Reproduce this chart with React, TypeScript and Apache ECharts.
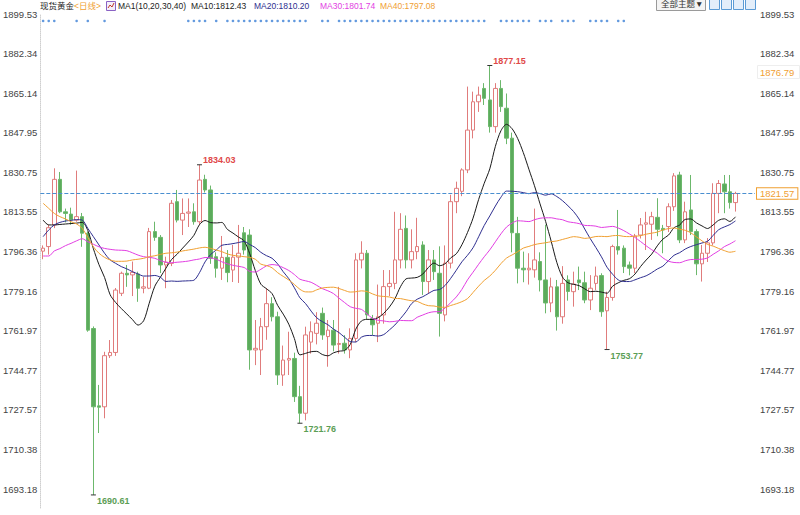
import { useEffect, useRef } from "react";
import * as echarts from "echarts";

// ---- data (daily spot gold) ----
const opens = [
  1796.5, 1798.5, 1807.9, 1827.7, 1813.6, 1812.6, 1810.0, 1811.5, 1804.3, 1762.9,
  1729.3, 1728.9, 1751.1, 1752.5, 1778.2, 1786.9, 1786.2, 1786.6, 1780.4, 1780.4,
  1805.0, 1802.5, 1790.5, 1791.2, 1818.0, 1810.0, 1813.0, 1813.6, 1809.3, 1827.7,
  1823.1, 1794.1, 1789.1, 1793.8, 1788.3, 1793.9, 1804.5, 1803.5, 1753.6, 1753.6,
  1763.7, 1773.7, 1768.0, 1742.7, 1749.2, 1749.9, 1733.3, 1726.1, 1757.0, 1760.8,
  1769.5, 1759.4, 1762.2, 1756.0, 1756.5, 1753.6, 1758.6, 1792.7, 1795.6, 1767.2,
  1765.2, 1768.8, 1781.1, 1782.5, 1792.7, 1806.4, 1792.7, 1796.3, 1799.2, 1783.3,
  1792.7, 1786.9, 1768.8, 1791.3, 1818.0, 1822.5, 1831.8, 1849.1, 1861.4, 1867.2,
  1862.2, 1850.6, 1867.2, 1858.6, 1845.6, 1804.2, 1789.1, 1788.4, 1788.4, 1792.0,
  1784.0, 1774.0, 1781.0, 1768.0, 1784.0, 1778.9, 1784.0, 1782.8, 1775.3, 1782.5,
  1785.9, 1770.6, 1776.4, 1798.5, 1797.8, 1790.5, 1789.1, 1803.5, 1808.2, 1808.2,
  1811.2, 1806.4, 1807.2, 1815.8, 1829.6, 1801.4, 1814.4, 1805.0, 1791.0, 1795.6,
  1800.1, 1821.6, 1825.7, 1822.3, 1817.6,
];
const closes = [
  1797.8, 1806.7, 1827.7, 1813.6, 1812.9, 1810.1, 1811.5, 1804.3, 1762.2, 1728.9,
  1728.7, 1751.1, 1752.5, 1779.6, 1786.9, 1786.2, 1787.3, 1780.4, 1781.0, 1805.0,
  1802.5, 1790.5, 1791.7, 1817.3, 1810.0, 1812.9, 1813.5, 1809.3, 1827.4, 1823.1,
  1793.4, 1789.1, 1793.8, 1787.2, 1793.9, 1795.6, 1797.0, 1753.6, 1754.3, 1763.7,
  1773.7, 1768.0, 1742.7, 1749.2, 1749.9, 1733.3, 1726.1, 1760.1, 1761.5, 1765.2,
  1760.1, 1762.2, 1755.7, 1756.4, 1753.6, 1758.6, 1792.7, 1795.6, 1768.8, 1764.5,
  1768.0, 1781.1, 1782.5, 1792.7, 1806.0, 1792.7, 1796.3, 1798.5, 1783.3, 1792.7,
  1787.6, 1769.5, 1791.3, 1818.0, 1823.8, 1831.8, 1849.1, 1861.4, 1864.3, 1862.9,
  1850.6, 1867.2, 1859.3, 1845.6, 1804.5, 1789.1, 1788.4, 1789.1, 1792.7, 1784.0,
  1774.0, 1781.0, 1768.0, 1782.5, 1779.0, 1782.2, 1782.8, 1775.3, 1780.4, 1785.7,
  1770.2, 1776.4, 1798.5, 1797.0, 1789.8, 1789.1, 1803.1, 1807.9, 1808.8, 1811.5,
  1806.0, 1805.7, 1815.8, 1829.2, 1801.4, 1813.6, 1805.0, 1791.0, 1795.6, 1800.1,
  1821.6, 1825.9, 1822.3, 1817.6, 1821.57,
];
const lows = [
  1793.0, 1795.0, 1806.5, 1813.0, 1809.0, 1808.0, 1809.3, 1798.4, 1761.5, 1690.61,
  1717.5, 1723.9, 1750.1, 1751.0, 1777.0, 1781.0, 1777.0, 1774.5, 1778.2, 1780.0,
  1801.0, 1787.0, 1780.4, 1790.0, 1809.0, 1803.5, 1807.0, 1808.0, 1808.0, 1822.0,
  1791.0, 1785.0, 1784.0, 1783.0, 1783.1, 1782.7, 1795.0, 1745.0, 1747.0, 1742.7,
  1758.0, 1766.0, 1738.4, 1738.0, 1742.7, 1731.0, 1721.76, 1723.0, 1752.0, 1756.0,
  1758.0, 1746.3, 1753.0, 1752.0, 1752.0, 1750.0, 1757.0, 1789.0, 1767.0, 1760.0,
  1757.0, 1765.0, 1777.0, 1780.0, 1789.0, 1789.0, 1789.0, 1793.0, 1777.5, 1778.0,
  1784.0, 1759.4, 1766.0, 1789.0, 1813.0, 1820.4, 1830.4, 1845.5, 1857.0, 1860.0,
  1848.0, 1848.0, 1857.0, 1843.0, 1796.0, 1782.5, 1783.0, 1782.0, 1785.0, 1779.0,
  1769.5, 1770.0, 1762.0, 1765.0, 1775.0, 1772.4, 1779.6, 1773.9, 1770.9, 1779.6,
  1768.0, 1753.77, 1775.0, 1795.0, 1787.0, 1786.0, 1787.0, 1802.0, 1797.0, 1801.4,
  1803.0, 1795.6, 1804.8, 1814.0, 1800.0, 1800.0, 1803.5, 1786.1, 1783.3, 1791.8,
  1799.0, 1813.0, 1813.0, 1815.0, 1813.7,
];
const highs = [
  1799.0, 1808.0, 1832.5, 1830.9, 1815.0, 1815.4, 1831.5, 1813.1, 1805.0, 1763.8,
  1738.4, 1752.8, 1757.9, 1780.5, 1787.6, 1790.5, 1792.0, 1787.6, 1785.4, 1806.6,
  1809.3, 1803.5, 1794.1, 1818.7, 1823.1, 1819.4, 1819.4, 1817.3, 1834.03, 1829.7,
  1825.0, 1796.0, 1803.1, 1797.0, 1799.2, 1807.9, 1807.0, 1806.0, 1766.6, 1767.5,
  1780.5, 1776.5, 1770.2, 1755.5, 1761.5, 1752.4, 1738.0, 1763.7, 1766.0, 1770.0,
  1772.0, 1766.6, 1766.6, 1781.0, 1760.0, 1763.0, 1795.6, 1800.8, 1797.0, 1768.8,
  1782.0, 1788.3, 1788.3, 1813.6, 1813.0, 1812.0, 1806.0, 1811.0, 1800.8, 1797.0,
  1797.0, 1798.6, 1799.0, 1821.0, 1826.7, 1832.5, 1868.0, 1865.8, 1868.0, 1869.5,
  1877.15, 1869.5, 1870.8, 1865.0, 1848.0, 1811.4, 1796.3, 1795.6, 1815.0, 1796.0,
  1808.0, 1785.0, 1784.0, 1790.0, 1786.0, 1787.6, 1789.8, 1787.6, 1786.1, 1789.8,
  1786.9, 1778.9, 1799.3, 1814.4, 1799.0, 1792.0, 1804.0, 1810.9, 1813.6, 1813.6,
  1819.5, 1807.9, 1817.3, 1830.4, 1831.0, 1818.0, 1829.6, 1806.0, 1799.2, 1802.2,
  1826.0, 1827.4, 1829.6, 1829.6, 1822.3,
];

// MA values before enough visible history exists
const ma10Lead = [1810.0, 1807.9, 1807.9, 1808.1, 1808.3, 1808.5, 1808.7, 1809.0, 1805.5];
const ma20Lead = [
  1802.8, 1805.7, 1807.9, 1809.0, 1809.6, 1809.9, 1810.2, 1810.0, 1806.4, 1802.8,
  1799.2, 1795.6, 1792.7, 1791.2, 1789.8, 1788.8, 1787.6, 1786.6, 1785.7,
];
const ma30Lead = [
  1794.4, 1794.4, 1796.6, 1797.6, 1798.9, 1799.9, 1801.0, 1801.9, 1800.6, 1799.5,
  1798.4, 1797.7, 1797.3, 1797.0, 1796.9, 1796.7, 1795.8, 1794.8, 1794.1, 1793.8,
  1793.4, 1792.4, 1791.7, 1791.5, 1791.7, 1791.9, 1792.2, 1792.7, 1793.1,
];
const ma40Lead = [
  1817.3, 1815.1, 1812.9, 1811.5, 1810.5, 1809.3, 1808.3, 1806.4, 1802.5, 1798.4,
  1795.6, 1793.8, 1792.7, 1792.1, 1792.1, 1792.2, 1792.7, 1793.0, 1793.4, 1794.1,
  1794.5, 1795.1, 1795.6, 1795.8, 1796.1, 1796.6, 1797.0, 1797.4, 1797.9, 1798.2,
  1797.7, 1797.0, 1796.3, 1795.3, 1794.7, 1794.4, 1794.1, 1793.8, 1793.0,
];

const yTicks = [
  1899.53, 1882.34, 1865.14, 1847.95, 1830.75, 1813.55, 1796.36, 1779.16, 1761.97,
  1744.77, 1727.57, 1710.38, 1693.18,
];
const maNames = ["MA10", "MA20", "MA30", "MA40"];
const maPeriods = [10, 20, 30, 40];
const maLegendValues = ["1812.43", "1810.20", "1801.74", "1797.08"];
const maColors = ["#1a1a1a", "#2e2e8f", "#e23ee2", "#f0a032"];
const eventDots = [
  0, 1, 2, 6, 8, 11, 26, 27, 28, 29, 31, 33, 34, 35, 36, 37, 38, 39, 40, 41, 42, 43,
  44, 45, 46, 47, 50, 51, 53, 54, 55, 56, 57, 58, 59, 60, 61, 62, 63, 64, 65, 66, 67,
  68, 69, 70, 71, 72, 73, 74, 75, 76, 77, 78, 79, 82, 83, 84, 85, 86, 87, 89, 90, 91,
  93, 94, 95, 98, 99, 100, 101, 103, 104,
];
const highMarks = [28, 80];
const lowMarks = [9, 46, 101];
const refPrice = "1876.79";

const SLOTS = 128;
const Y_MAX = 1899.53;
const Y_MIN = 1684.93;
const DOT_LEVEL = 1896.5;

function movingAverage(n: number, lead: number[]) {
  return closes.map((_, i) => {
    if (i < n - 1) return lead[i];
    let s = 0;
    for (let k = i - n + 1; k <= i; k++) s += closes[k];
    return +(s / n).toFixed(2);
  });
}

const FONT = "'Liberation Sans', Arial, 'Noto Sans CJK SC', sans-serif";

export default function App() {
  const ref = useRef<HTMLDivElement>(null);
  useEffect(() => {
    if (!ref.current) return;
    const chart = echarts.init(ref.current, undefined, { renderer: "svg" });
    const cats = Array.from({ length: SLOTS }, (_, i) => String(i));
    const kData = opens.map((o, i) => [o, closes[i], lows[i], highs[i]]);
    const leads = [ma10Lead, ma20Lead, ma30Lead, ma40Lead];
    const maSeries = maPeriods.map((p, k) => ({
      type: "line",
      name: maNames[k],
      data: movingAverage(p, leads[k]),
      symbol: "none",
      smooth: 0.3,
      lineStyle: { width: 1, color: maColors[k] },
      silent: true,
      z: 3,
    }));

    const markData = [
      ...highMarks.map((i) => ({
        coord: [i, highs[i]],
        value: highs[i],
        label: { color: "#e04848", offset: [0, -5] },
      })),
      ...lowMarks.map((i) => ({
        coord: [i, lows[i]],
        value: lows[i],
        label: { color: "#5b9e55", offset: [0, 6] },
      })),
    ];

    const legendItems: any[] = [];
    const legendX = [191, 254, 320, 380];
    maNames.forEach((n, k) => {
      legendItems.push({
        type: "text",
        x: legendX[k],
        y: 6,
        style: {
          text: `${n}:${maLegendValues[k]}`,
          fill: k === 0 ? "#222" : maColors[k],
          font: `8.5px ${FONT}`,
          verticalAlign: "middle",
        },
      });
    });

    const iconXs = [709, 721, 733, 745];

    chart.setOption({
      animation: false,
      backgroundColor: "#fff",
      grid: { left: 39, right: 45, top: 14, bottom: 7, containLabel: false },
      xAxis: {
        type: "category",
        data: cats,
        boundaryGap: true,
        axisLine: { show: false },
        axisTick: { show: false },
        axisLabel: { show: false },
        splitLine: { show: false },
      },
      yAxis: [
        {
          type: "value",
          min: Y_MIN,
          max: Y_MAX,
          position: "left",
          axisLine: { show: true, lineStyle: { color: "#cfcfcf", type: "dotted" } },
          axisTick: { show: false },
          splitLine: { show: false },
          axisLabel: {
            customValues: yTicks,
            formatter: (v: number) => v.toFixed(2),
            color: "#444",
            fontSize: 9.5,
            fontFamily: FONT,
            margin: 3,
          },
        },
        {
          type: "value",
          min: Y_MIN,
          max: Y_MAX,
          position: "right",
          axisLine: { show: false },
          axisTick: { show: false },
          splitLine: { show: false },
          axisLabel: {
            customValues: yTicks,
            formatter: (v: number) => v.toFixed(2),
            color: "#444",
            fontSize: 9.5,
            fontFamily: FONT,
            margin: 5,
          },
        },
      ],
      series: [
        {
          type: "candlestick",
          data: kData,
          barWidth: 4,
          itemStyle: {
            color: "#ffffff",
            borderColor: "#e07c7c",
            color0: "#5cab5c",
            borderColor0: "#6cb86c",
            borderWidth: 1,
          },
          z: 2,
          markLine: {
            silent: true,
            symbol: ["none", "none"],
            data: [{ yAxis: closes[closes.length - 1] }],
            lineStyle: { color: "#4a8fd0", type: "dashed", width: 1 },
            label: {
              position: "end",
              distance: 2,
              formatter: (p: any) => Number(p.value).toFixed(2),
              color: "#f0a032",
              borderColor: "#f0a032",
              borderWidth: 1,
              backgroundColor: "#fff",
              padding: [1, 3, 0, 3],
              fontSize: 9.5,
              fontFamily: FONT,
            },
          },
          markPoint: {
            symbol: "rect",
            symbolSize: [5, 1],
            itemStyle: { color: "#333" },
            label: {
              show: true,
              position: "right",
              distance: 1,
              fontSize: 9,
              fontWeight: "bold",
              fontFamily: FONT,
              formatter: (p: any) => Number(p.value).toFixed(2),
            },
            data: markData,
          },
        },
        ...maSeries,
        {
          type: "scatter",
          data: eventDots.map((i) => [i, DOT_LEVEL]),
          symbol: "circle",
          symbolSize: 2.6,
          itemStyle: { color: "#3b7fd6" },
          silent: true,
          z: 4,
        },
      ],
      graphic: [
        {
          type: "text",
          x: 40,
          y: 6,
          style: { text: "现货黄金", fill: "#222", font: `8.5px ${FONT}`, verticalAlign: "middle" },
        },
        {
          type: "text",
          x: 74,
          y: 6,
          style: { text: "<日线>", fill: "#f0a032", font: `8.5px ${FONT}`, verticalAlign: "middle" },
        },
        {
          type: "rect",
          shape: { x: 106.5, y: 1.5, width: 9, height: 9 },
          style: { fill: "#f3eefa", stroke: "#8a62c4", lineWidth: 1 },
        },
        {
          type: "polyline",
          shape: { points: [[108, 8], [110, 5], [112, 7], [114, 3]] },
          style: { stroke: "#c0392b", lineWidth: 1, fill: "none" },
        },
        {
          type: "text",
          x: 118,
          y: 6,
          style: {
            text: "MA1(10,20,30,40)",
            fill: "#222",
            font: `8.5px ${FONT}`,
            verticalAlign: "middle",
          },
        },
        ...legendItems,
        {
          type: "rect",
          shape: { x: 656.5, y: -3.5, width: 49, height: 14 },
          style: { fill: "#f4f4f4", stroke: "#9a9a9a", lineWidth: 1 },
        },
        {
          type: "text",
          x: 661,
          y: 4,
          style: { text: "全部主题▼", fill: "#333", font: `8.5px ${FONT}`, verticalAlign: "middle" },
        },
        ...iconXs.map((x) => ({
          type: "rect",
          shape: { x: x + 0.5, y: -1.5, width: 10, height: 11 },
          style: { fill: "#e3eefa", stroke: "#5b9bd5", lineWidth: 1 },
        })),
        {
          type: "rect",
          shape: { x: 757.5, y: 65.5, width: 42, height: 13 },
          style: { fill: "#fff", stroke: "#eeeeee", lineWidth: 1 },
        },
        {
          type: "text",
          x: 760,
          y: 72,
          style: { text: refPrice, fill: "#f0a032", font: `9.5px ${FONT}`, verticalAlign: "middle" },
        },
      ],
    });
    return () => chart.dispose();
  }, []);
  return (
    <div
      ref={ref}
      style={{ position: "fixed", left: 0, top: 0, width: 800, height: 515, background: "#fff" }}
    />
  );
}
